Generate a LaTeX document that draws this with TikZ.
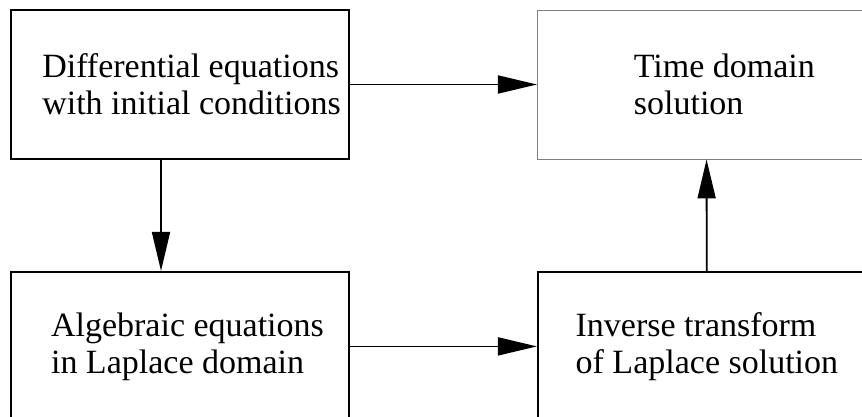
\documentclass[tikz,border=0pt]{standalone}
\usepackage{fontspec}
\setmainfont{Liberation Serif}
\usetikzlibrary{arrows.meta, positioning}

\begin{document}
\begin{tikzpicture}[x=1pt, y=-1pt, node distance=111pt and 187pt]
\tikzstyle{block} = [rectangle, minimum width=338pt, minimum height=149pt, align=left, draw=black, line width=1.9pt, font=\fontsize{34}{37}\selectfont]
\tikzstyle{thinblock} = [block, draw=black!50, line width=0.9pt]
\tikzstyle{arrow} = [line width=1.8pt, -{Triangle[length=39pt, width=18pt]}]

\useasboundingbox (0,0) rectangle (862,417);
\clip (0,0) rectangle (862,417);

\node (diff) [block] at (180,84.5) {\hspace*{23pt}Differential equations\\ \hspace*{23pt}with initial conditions};
\node (time) [thinblock, right=of diff] {\hspace*{36pt}Time domain\\ \hspace*{36pt}solution};
\node (alg) [block, below=of diff] {\hspace*{15pt}Algebraic equations\\ \hspace*{15pt}in Laplace domain};
\node (inv) [block, right=of alg] {\raisebox{-7pt}{Inverse transform}\\ \raisebox{-7pt}{of Laplace solution}};

\draw [arrow] (diff) -- (time);
\draw [arrow] ([xshift=-19pt]diff.south) -- ([xshift=-19pt]alg.north);
\draw [arrow] (alg) -- (inv);
\draw [arrow] (inv) -- (time);
\end{tikzpicture}
\end{document}
